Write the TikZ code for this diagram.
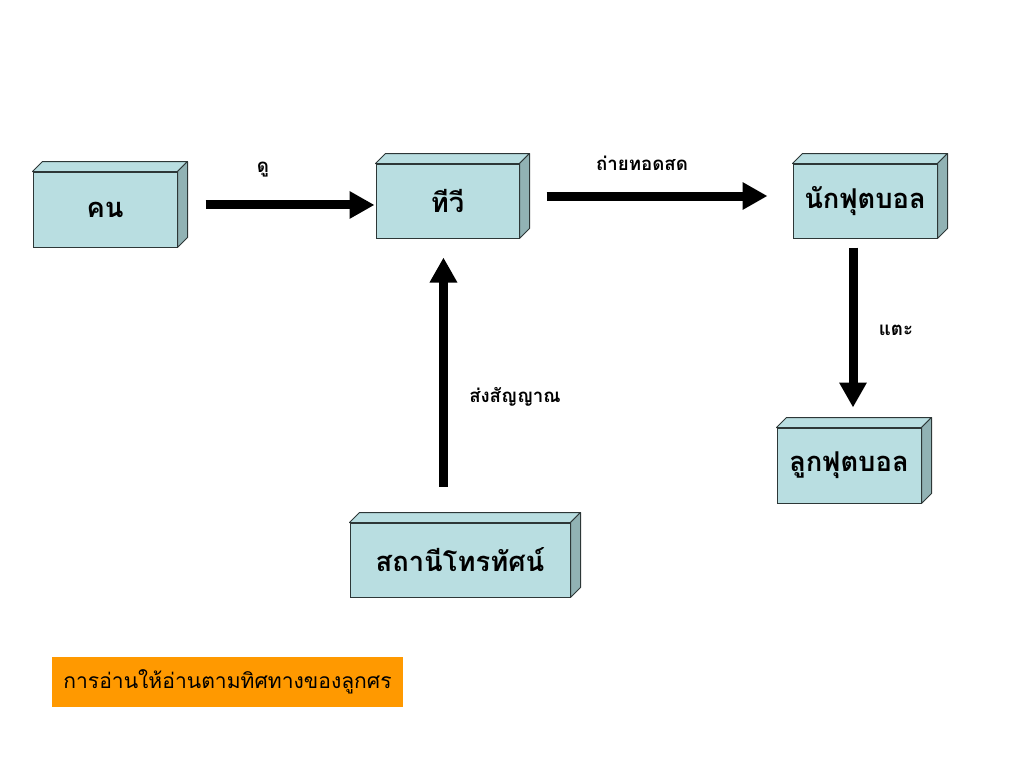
\documentclass[tikz,border=0pt]{standalone}
\usepackage{fontspec}
\newfontfamily\thai[Script=Thai]{Loma}
\usetikzlibrary{arrows.meta}
\definecolor{boxfill}{RGB}{185,222,225}
\definecolor{boxside}{RGB}{145,178,180}
\definecolor{boxline}{RGB}{45,55,55}
\definecolor{notefill}{RGB}{255,153,0}
\tikzset{
  cube/.style={draw=boxline, line width=0.75pt, fill=boxfill, inner sep=0pt,
    font=\thai\bfseries\fontsize{20.5}{25}\selectfont},
  arr/.style={line width=6.75pt, -{Triangle[width=19.5pt,length=18.75pt]}},
  lbl/.style={font=\thai\bfseries\fontsize{14}{17}\selectfont, inner sep=0pt},
}
\begin{document}
\begin{tikzpicture}[x=0.75pt,y=-0.75pt]
\useasboundingbox (0,0) rectangle (1024,768);
\node[cube, minimum width=108pt, minimum height=56.25pt] (kon) at (105,209.5) {คน};
\node[cube, minimum width=107.25pt, minimum height=55.5pt] (tv) at (447.5,201) {ทีวี};
\node[cube, minimum width=108pt, minimum height=55.5pt] (player) at (865,201) {นักฟุตบอล};
\node[cube, minimum width=108pt, minimum height=56.25pt] (ball) at (849,465.5) {ลูกฟุตบอล};
\node[cube, minimum width=165pt, minimum height=55.5pt] (station) at (460,560) {สถานีโทรทัศน์};
\foreach \n in {kon,tv,player,ball,station}{
  \draw[draw=boxline, line width=0.75pt, fill=boxfill, line join=round]
    (\n.north west) -- ++(7.5pt,7.5pt) -- ([shift={(7.5pt,7.5pt)}]\n.north east) -- (\n.north east) -- cycle;
  \draw[draw=boxline, line width=0.75pt, fill=boxside, line join=round]
    (\n.north east) -- ++(7.5pt,7.5pt) -- ([shift={(7.5pt,7.5pt)}]\n.south east) -- (\n.south east) -- cycle;
}
\node[fill=notefill, minimum width=263.25pt, minimum height=37.5pt, inner sep=0pt,
  font=\thai\fontsize{15.8}{19}\selectfont] (note) at (227.5,682) {การอ่านให้อ่านตามทิศทางของลูกศร};
\draw[arr, shorten <=21pt, shorten >=0.75pt] ([yshift=3.4pt]kon.east) -- ([yshift=3.4pt]kon.east -| tv.west);
\draw[arr, shorten <=20.25pt, shorten >=18.75pt] ([yshift=3.75pt]tv.east) -- ([yshift=3.75pt]tv.east -| player.west);
\draw[arr, shorten <=6.75pt, shorten >=15pt] ([xshift=-9pt]player.south) -- ([xshift=-9pt]player.south |- ball.north);
\draw[arr, shorten <=27pt, shorten >=14.25pt] ([xshift=-12.4pt]station.north) -- ([xshift=-12.4pt]station.north |- tv.south);
\node[lbl] (l1) at (263,170) {ดู};
\node[lbl] (l2) at (642,163) {ถ่ายทอดสด};
\node[lbl] (l3) at (896,330) {แตะ};
\node[lbl] (l4) at (515,397) {ส่งสัญญาณ};
\end{tikzpicture}
\end{document}
